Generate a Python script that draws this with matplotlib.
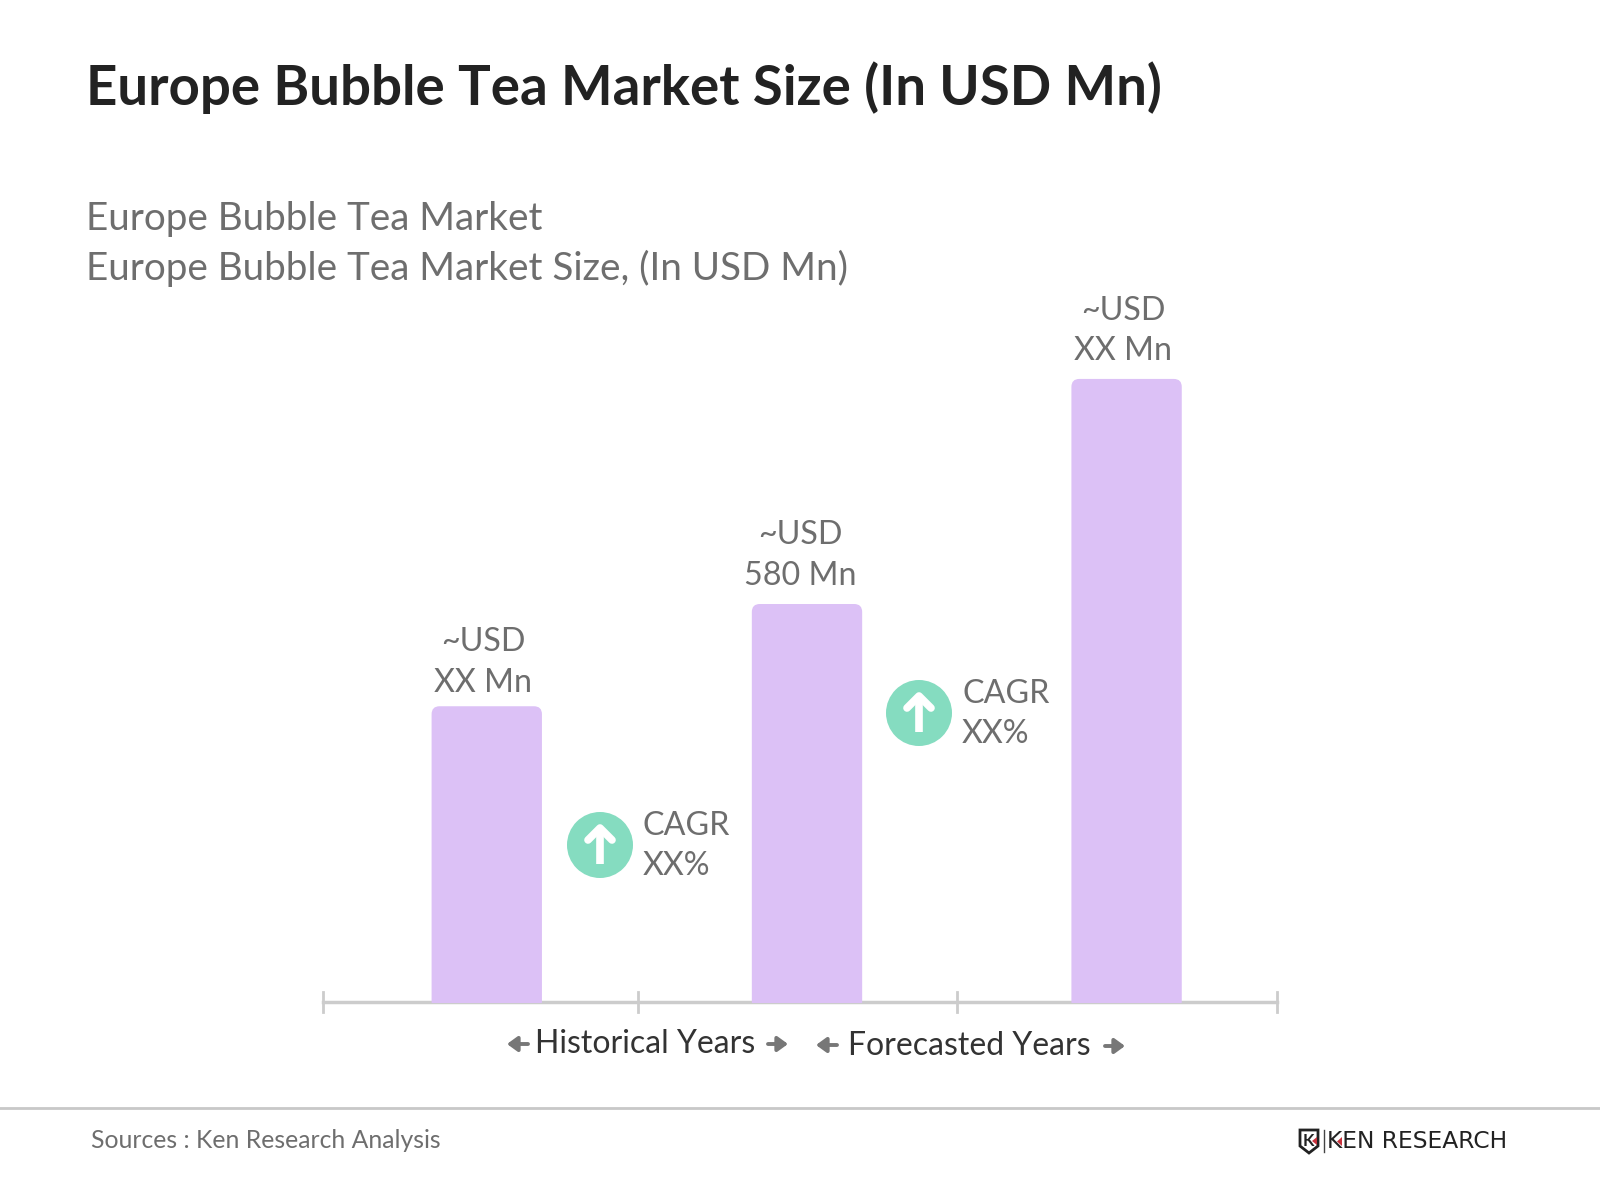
import matplotlib
matplotlib.use('Agg')
import matplotlib.pyplot as plt
from matplotlib.patches import FancyBboxPatch, Circle, Polygon, Rectangle

plt.rcParams['font.family'] = ['Lato', 'DejaVu Sans']

# values, 580 is the only printed one
periods = ['Historical start', 'Base', 'Forecast end']
market_size = [431, 580, 908]
bar_labels = ['~USD\nXX Mn', '~USD\n580 Mn', '~USD\nXX Mn']
cagr_labels = ['CAGR\nXX%', 'CAGR\nXX%']

BAR_COLOR = '#dcc1f6'
CIRCLE_COLOR = '#85dcc0'
GREY = '#6e6e6e'
W, H = 1600, 1200

fig = plt.figure(figsize=(16, 12), dpi=100, facecolor='white')

# full page axes in pixels for the page furniture
page = fig.add_axes([0, 0, 1, 1])
page.set_xlim(0, W)
page.set_ylim(H, 0)
page.axis('off')

page.text(86, 88, 'Europe Bubble Tea Market Size (In USD Mn)', fontsize=39.33, fontweight='bold',
          color='#222222', va='center')
page.text(86, 219, 'Europe Bubble Tea Market', fontsize=27.85, color=GREY, va='center')
page.text(86, 268, 'Europe Bubble Tea Market Size, (In USD Mn)', fontsize=27.85, color=GREY, va='center')

# footer
page.plot([0, W], [1108, 1108], color='#c8c8c8', lw=2)
page.text(91, 1141, 'Sources : Ken Research Analysis', fontsize=17.85, color=GREY, va='center')

# logo
page.add_patch(Polygon([[1300, 1130], [1318, 1130], [1318, 1146], [1309, 1153], [1300, 1146]],
                       closed=True, fc='white', ec='#222222', lw=2))
page.text(1308, 1141, 'K', fontsize=12, fontweight='bold', color='#222222', ha='center', va='center')
page.add_patch(Polygon([[1317, 1137], [1312, 1141], [1317, 1145]], closed=True, fc='#c8323c', ec='none'))
page.plot([1324, 1324], [1130, 1152], color='#444444', lw=1)
page.text(1327, 1141.5, 'KEN RESEARCH', fontsize=16.8, color='#222222', va='center',
          family='DejaVu Sans')
page.add_patch(Polygon([[1342, 1137], [1337, 1141.5], [1342, 1146]], closed=True, fc='#c8323c', ec='none',
                       zorder=5))

# chart axes: baseline at y=1002 px, spans tick to tick
left, right = 323, 1277
base, top = 1002, 302
ax = fig.add_axes([left / W, 1 - base / H, (right - left) / W, (base - top) / H])
ax.set_xlim(0, 3)
px_per_val = 398 / 580
ax.set_ylim(0, (base - top) / px_per_val)
ax.axis('off')

# baseline and its four ticks, they sit under the bars
ticks = [0, 0.99, 1.995, 3]
ax.plot([0, 3], [0, 0], color='#cccccc', lw=2.5, zorder=1, clip_on=False)
for t in ticks:
    ax.plot([t, t], [-14, 14], color='#cccccc', lw=2, zorder=1, clip_on=False)

centers = [0.515, 1.522, 2.527]
label_dx = [-0.012, -0.022, -0.01]
label_gap = [12.5, 19.5, 18.5]
bar_w = 0.347
aspect = (3 / (right - left)) / (1 / px_per_val)
for c, v, lab, dx, gap in zip(centers, market_size, bar_labels, label_dx, label_gap):
    pad = 0.025
    bar = FancyBboxPatch((c - bar_w / 2 + pad, 0), bar_w - 2 * pad, v - pad / aspect,
                         boxstyle=f'round,pad={pad},rounding_size={pad}',
                         mutation_aspect=1 / aspect, fc=BAR_COLOR, ec='none', zorder=2)
    ax.add_patch(bar)
    # cut the rounded foot at the baseline
    bar.set_clip_path(Rectangle((-1, -2), 5, 2000, transform=ax.transData))
    ax.text(c + dx, v + gap, lab, fontsize=23.2, color=GREY, ha='center', va='bottom',
            linespacing=1.43)


def cagr_badge(cx, cy, label):
    page.add_patch(Circle((cx, cy), 33, fc=CIRCLE_COLOR, ec='none', zorder=5))
    page.plot([cx, cx], [cy + 19, cy - 15], color='white', lw=5.5, zorder=6, solid_capstyle='butt')
    page.plot([cx - 12, cx, cx + 12], [cy - 5, cy - 17, cy - 5], color='white', lw=5.5, zorder=6,
              solid_capstyle='round', solid_joinstyle='round')
    page.text(cx + 43, cy + 1, label, fontsize=23.2, color=GREY, va='center', linespacing=1.43, zorder=6)


cagr_badge(600, 845, cagr_labels[0])
cagr_badge(919, 713, cagr_labels[1])


def small_arrow(x0, x1, y):
    page.annotate('', xy=(x1, y), xytext=(x0, y),
                  arrowprops=dict(arrowstyle='-|>,head_width=0.4,head_length=0.55', lw=2.8,
                                  color='#777777', shrinkA=0, shrinkB=0, mutation_scale=11))


page.text(535, 1044, 'Historical Years', fontsize=23.05, color='#333333', va='center')
page.text(848, 1046, 'Forecasted Years', fontsize=23.05, color='#333333', va='center')
small_arrow(528, 507, 1044)
small_arrow(768, 788, 1044)
small_arrow(837, 816, 1045)
small_arrow(1105, 1125, 1046)

fig.savefig('out.png', dpi=100, facecolor='white')
